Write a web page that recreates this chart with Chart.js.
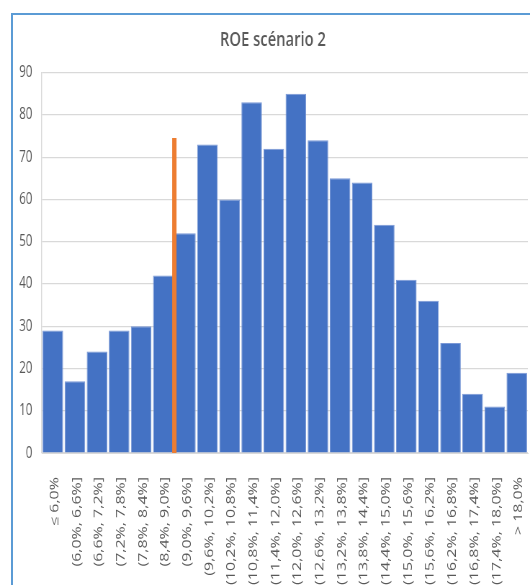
<!DOCTYPE html>
<html lang="fr">
<head>
<meta charset="utf-8">
<title>ROE scénario 2</title>
<script src="https://cdn.jsdelivr.net/npm/chart.js@4/dist/chart.umd.min.js"></script>
<style>
  html, body { margin: 0; padding: 0; background: #ffffff; overflow: hidden; }
  #wrap { position: relative; width: 530px; height: 585px; }
  #roe { position: absolute; left: 0; top: 0; }
  #frame {
    position: absolute; left: 11px; top: 13px; width: 620px; height: 700px;
    border: 2px solid #5B9BD5; box-sizing: border-box; pointer-events: none;
  }
</style>
</head>
<body>
<div id="wrap">
  <!-- rendered 736px wide, displayed 530px wide: gives the condensed type -->
  <canvas id="roe" width="736" height="585" style="width:530px;height:585px;"></canvas>
  <div id="frame"></div>
</div>
<script>
// ROE classes (width 0,6 point) and number of simulations in each class
const categories = [
  "≤ 6,0%", "(6,0%, 6,6%]", "(6,6%, 7,2%]", "(7,2%, 7,8%]", "(7,8%, 8,4%]",
  "(8,4%, 9,0%]", "(9,0%, 9,6%]", "(9,6%, 10,2%]", "(10,2%, 10,8%]",
  "(10,8%, 11,4%]", "(11,4%, 12,0%]", "(12,0%, 12,6%]", "(12,6%, 13,2%]",
  "(13,2%, 13,8%]", "(13,8%, 14,4%]", "(14,4%, 15,0%]", "(15,0%, 15,6%]",
  "(15,6%, 16,2%]", "(16,2%, 16,8%]", "(16,8%, 17,4%]", "(17,4%, 18,0%]",
  "> 18,0%"
];
const counts = [29, 17, 24, 29, 30, 42, 52, 73, 60, 83, 72, 85, 74, 65, 64, 54, 41, 36, 26, 14, 11, 19];

// reference marker: sits on the 9,0% class boundary
const markerPosition = [5.5, 5.5];
const markerHeight = [0, 74.5];

// value axis
const yTicks = [0, 10, 20, 30, 40, 50, 60, 70, 80, 90];

const textGray = '#595959';
const gridGray = '#D9D9D9';
const fontFamily = '"Open Sans", "Liberation Sans", sans-serif';

const markerPoints = markerPosition.map((x, i) => ({ x: x, y: markerHeight[i] }));

new Chart(document.getElementById('roe'), {
  data: {
    labels: categories,
    datasets: [
      {
        type: 'line',
        data: markerPoints,
        xAxisID: 'xm',
        borderColor: '#ED7D31',
        borderWidth: 6,
        pointRadius: 0,
        fill: false,
        order: 0
      },
      {
        type: 'bar',
        data: counts,
        xAxisID: 'x',
        backgroundColor: '#4472C4',
        borderColor: '#7A98D6',
        borderWidth: 1,
        grouped: false,
        barPercentage: 0.93,
        categoryPercentage: 1.0,
        order: 1
      }
    ]
  },
  options: {
    responsive: false,
    devicePixelRatio: 1,
    animation: false,
    events: [],
    layout: { padding: { left: 25, right: 3, top: 0, bottom: 0 } },
    plugins: {
      legend: { display: false },
      tooltip: { enabled: false },
      title: {
        display: true,
        text: 'ROE scénario 2',
        color: textGray,
        font: { family: fontFamily, size: 20.5, weight: '600', lineHeight: 1.2 },
        padding: { top: 27.5, bottom: 20.5 }
      }
    },
    scales: {
      x: {
        type: 'category',
        offset: true,
        grid: { display: false },
        border: { display: true, color: gridGray, width: 1 },
        ticks: {
          color: textGray,
          font: { family: fontFamily, size: 16 },
          minRotation: 90,
          maxRotation: 90,
          autoSkip: false,
          padding: 16,
          labelOffset: 3
        },
        afterFit: (scale) => {
          scale.height = 132;
          scale.paddingLeft = 0;
          scale.paddingRight = 0;
        }
      },
      xm: {
        type: 'linear',
        display: false,
        min: -0.5,
        max: categories.length - 0.5
      },
      y: {
        type: 'linear',
        min: yTicks[0],
        max: yTicks[yTicks.length - 1],
        afterBuildTicks: (scale) => { scale.ticks = yTicks.map(v => ({ value: v })); },
        grid: { color: gridGray, lineWidth: 1.2, drawTicks: false },
        border: { display: true, color: gridGray, width: 1.4 },
        ticks: {
          color: textGray,
          font: { family: fontFamily, size: 16 },
          padding: 13
        },
        afterFit: (scale) => { scale.width = 33; }
      }
    }
  }
});
</script>
</body>
</html>
